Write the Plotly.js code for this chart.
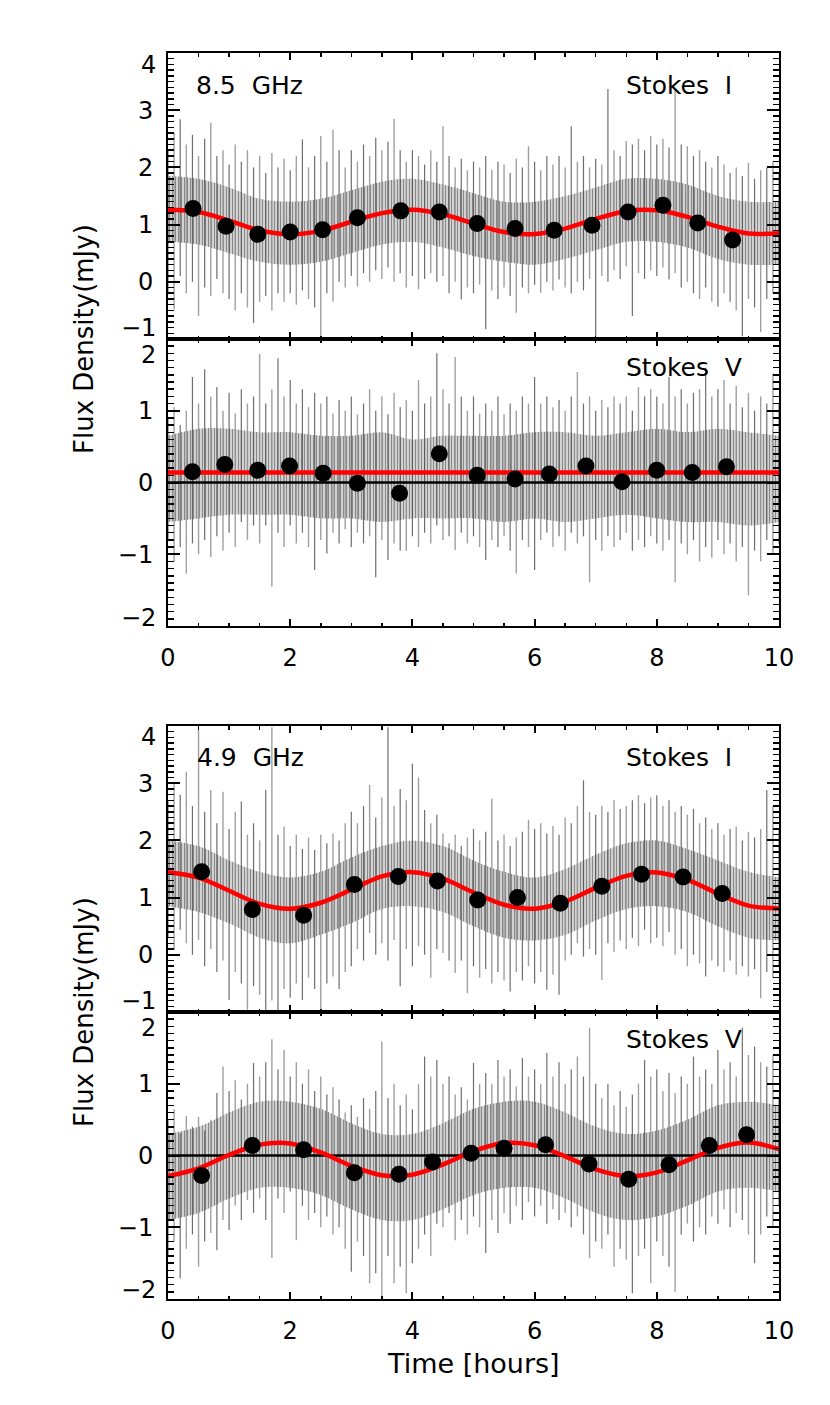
<!DOCTYPE html>
<html><head><meta charset="utf-8">
<script src="https://cdn.plot.ly/plotly-3.0.1.min.js"></script>
<style>html,body{margin:0;padding:0;background:#fff;}#chart{width:830px;height:1405px;}</style>
</head><body><div id="chart"></div>
<script>
// ---------- DATA ----------
const xTickVals = [0, 2, 4, 6, 8, 10];
const yTickValsI = [-1, 0, 1, 2, 3, 4];
const yTickValsV = [-2, -1, 0, 1, 2];
const noiseStep = 0.1;   // time spacing of the gray error bars (hours)
const curveStep = 0.5;   // time spacing of fitted curve samples (hours)

// 8.5 GHz Stokes I
const binT_85I = [0.41,0.95,1.47,2.00,2.53,3.10,3.81,4.44,5.06,5.68,6.32,6.94,7.53,8.10,8.67,9.24];
const binV_85I = [1.28,0.97,0.83,0.87,0.91,1.12,1.24,1.22,1.02,0.93,0.90,0.99,1.22,1.34,1.03,0.73];
const fit_85I = [1.26,1.22,1.07,0.90,0.83,0.89,1.05,1.20,1.26,1.18,1.02,0.87,0.835,0.93,1.10,1.235,1.25,1.135,0.965,0.845,0.85];
const noiseHi_85I = [2.3,2.6,2.84,2.4,2.57,2.2,2.5,2.78,2.2,2.3,2.05,2.4,2.1,2.3,2.0,2.2,1.9,2.25,2.0,2.15,1.95,2.2,2.49,2.0,2.2,2.55,2.1,2.66,2.3,2.0,2.3,2.1,2.4,2.2,2.52,2.3,2.45,2.85,2.3,2.1,2.3,2.2,2.05,2.3,2.1,2.72,2.2,2.0,2.15,1.95,2.1,2.0,2.2,1.96,2.1,2.05,1.9,2.15,2.0,2.37,2.1,1.95,2.2,2.05,2.2,2.0,2.72,2.1,2.2,2.0,2.15,2.05,3.37,2.3,2.2,2.46,2.4,2.5,2.3,2.55,2.4,2.5,2.35,3.36,2.4,2.37,2.2,2.3,2.1,2.0,2.2,2.05,1.9,2.0,1.85,2.08,1.8,1.95,2.0,2.1,1.9];
const noiseLo_85I = [-0.2,-0.48,0.1,-0.2,0.0,-0.6,-0.1,-0.25,0.05,-0.2,-0.3,-0.5,-0.2,-0.45,-0.72,-0.35,-0.25,-0.5,-0.2,-0.35,-0.2,-0.4,-0.15,-0.3,-0.45,-1.0,-0.2,-0.35,0.0,-0.1,0.1,-0.08,0.15,0.0,0.2,0.05,0.25,0.0,0.15,-0.1,0.1,-0.13,0.05,0.15,0.0,0.1,-0.2,0.0,-0.31,-0.1,-0.2,-0.05,-0.83,-0.15,-0.3,-0.1,-0.25,-0.54,-0.1,-0.2,-0.05,-0.19,0.0,-0.15,0.04,-0.1,-0.2,0.0,-0.15,0.05,-0.95,0.1,0.0,0.2,0.05,0.27,-0.6,0.15,0.05,0.2,0.1,0.25,0.04,0.15,-0.1,0.0,-0.2,-0.3,-0.1,-0.35,-0.43,-0.2,-0.35,-0.5,-0.95,-0.3,-0.45,-0.88,-0.3,-0.2,-0.35];
const coreHi_85I = [1.85,1.8,1.65,1.45,1.4,1.45,1.6,1.75,1.8,1.7,1.55,1.4,1.4,1.5,1.65,1.8,1.8,1.7,1.5,1.4,1.4];
const coreLo_85I = [0.7,0.65,0.5,0.35,0.3,0.35,0.5,0.65,0.7,0.6,0.45,0.35,0.3,0.4,0.55,0.7,0.7,0.6,0.4,0.3,0.3];

// 8.5 GHz Stokes V
const binT_85V = [0.40,0.93,1.47,1.99,2.54,3.10,3.79,4.44,5.06,5.68,6.24,6.84,7.43,8.00,8.58,9.14];
const binV_85V = [0.15,0.25,0.17,0.23,0.13,-0.01,-0.15,0.40,0.10,0.05,0.12,0.23,0.01,0.17,0.14,0.22];
const fitT_85V = [0, 10];
const fit_85V = [0.14, 0.14];
const noiseHi_85V = [0.9,1.05,0.8,1.0,1.47,1.1,1.58,1.2,1.33,1.0,1.25,0.96,1.3,1.1,1.2,1.79,1.1,1.3,1.73,1.2,1.43,1.1,1.3,1.05,1.25,1.1,1.2,0.96,1.15,1.0,1.2,0.95,1.1,1.3,1.0,1.2,0.95,1.25,1.05,1.15,1.0,1.43,1.1,1.2,1.8,1.3,1.1,1.75,1.2,1.0,1.2,0.96,1.1,1.0,1.2,0.95,1.1,1.0,1.2,1.1,1.47,1.1,1.2,1.05,1.15,1.0,1.2,1.54,1.1,1.2,1.0,1.15,1.05,1.2,1.1,1.2,1.0,1.33,1.2,1.3,1.2,1.1,1.47,1.2,1.3,1.1,1.25,1.3,1.6,1.2,1.3,1.43,1.1,1.35,1.05,1.25,1.0,1.2,1.1,1.52,1.1];
const noiseLo_85V = [-0.8,-1.1,-0.9,-1.27,-0.85,-1.0,-0.8,-1.04,-0.75,-0.95,-0.7,-0.9,-0.55,-0.8,-0.6,-0.85,-0.6,-1.45,-0.7,-0.9,-0.6,-0.85,-0.7,-0.9,-1.22,-0.8,-0.99,-0.7,-0.85,-0.65,-0.9,-0.7,-0.85,-0.75,-1.32,-0.8,-1.08,-0.85,-0.95,-0.95,-0.75,-0.9,-0.7,-0.85,-0.6,-0.8,-0.75,-0.94,-0.7,-0.85,-0.75,-0.9,-1.08,-0.8,-0.9,-0.75,-0.95,-1.27,-0.8,-0.9,-1.22,-0.8,-0.7,-0.9,-0.75,-0.95,-0.7,-0.85,-0.75,-1.39,-0.8,-0.95,-0.75,-0.9,-0.8,-0.7,-0.95,-0.8,-0.9,-0.75,-0.85,-0.95,-0.8,-1.39,-0.85,-1.0,-0.8,-1.1,-0.9,-1.05,-0.8,-1.0,-0.85,-1.1,-0.9,-1.57,-0.95,-1.1,-0.8,-1.0,-0.85];
const coreHi_85V = [0.65,0.75,0.75,0.7,0.7,0.65,0.65,0.7,0.6,0.65,0.65,0.65,0.7,0.7,0.65,0.7,0.75,0.7,0.75,0.7,0.65];
const coreLo_85V = [-0.55,-0.5,-0.45,-0.45,-0.45,-0.5,-0.5,-0.55,-0.5,-0.5,-0.5,-0.55,-0.5,-0.55,-0.5,-0.45,-0.5,-0.55,-0.55,-0.6,-0.55];

// 4.9 GHz Stokes I
const binT_49I = [0.55,1.38,2.22,3.05,3.77,4.41,5.07,5.72,6.42,7.10,7.75,8.43,9.07];
const binV_49I = [1.45,0.79,0.69,1.23,1.37,1.29,0.96,1.00,0.90,1.20,1.41,1.36,1.07];
const fit_49I = [1.445,1.35,1.12,0.89,0.805,0.91,1.14,1.37,1.445,1.33,1.09,0.875,0.807,0.93,1.17,1.38,1.44,1.31,1.07,0.86,0.81];
const noiseHi_49I = [2.7,3.0,2.8,3.2,2.6,3.93,2.5,2.88,2.3,2.85,2.2,2.5,2.68,2.1,2.3,2.0,2.88,3.98,2.1,2.24,1.9,2.1,1.85,2.05,1.83,2.1,1.95,2.12,2.0,2.3,2.5,2.3,2.6,2.97,2.4,2.75,3.98,2.6,2.9,2.7,3.34,3.1,2.53,2.3,2.45,2.12,1.95,2.1,1.9,2.05,2.2,2.0,2.15,2.73,2.0,2.1,1.9,2.05,2.15,2.36,2.2,2.3,2.12,2.25,2.1,2.4,2.3,2.6,3.05,2.5,2.45,2.6,2.5,2.7,2.55,2.6,2.7,2.79,2.65,2.75,2.79,2.6,2.7,2.5,2.6,2.45,2.55,2.3,2.4,2.2,2.3,2.1,2.2,2.24,2.0,2.15,2.05,2.2,2.88,2.6,2.2];
const noiseLo_49I = [0.3,0.09,0.44,0.2,0.0,0.26,-0.2,0.1,-0.3,-0.1,-0.79,-0.3,-0.5,-0.96,-0.55,-0.7,-1.1,-0.8,-1.1,-0.6,-0.75,-0.5,-0.79,-0.4,-0.6,-1.1,-0.5,-0.38,-0.6,-0.3,-0.2,0.1,-0.1,0.38,0.0,0.2,-0.1,0.26,-0.55,0.1,-0.2,0.15,0.0,-0.4,0.1,0.03,-0.1,-0.32,-0.1,-0.67,-0.2,-0.4,-0.25,-0.5,-0.3,-0.45,-0.64,-0.3,-0.45,-0.2,-0.5,-0.3,-0.61,-0.35,-0.7,-0.1,0.0,0.2,-0.03,0.1,0.0,-0.44,0.2,0.05,0.25,0.1,0.3,0.15,0.44,0.2,0.3,0.15,0.4,0.0,0.1,-0.2,0.0,-0.15,-0.38,-0.1,-0.2,-0.3,-0.1,-0.35,-0.2,-0.38,-0.25,-0.76,-0.3,-0.4,-0.2];
const coreHi_49I = [2.0,1.9,1.65,1.45,1.35,1.45,1.7,1.9,2.0,1.9,1.65,1.45,1.35,1.5,1.75,1.95,2.0,1.85,1.65,1.45,1.35];
const coreLo_49I = [0.85,0.75,0.55,0.3,0.2,0.35,0.55,0.8,0.85,0.75,0.5,0.3,0.25,0.35,0.6,0.8,0.85,0.75,0.5,0.3,0.25];

// 4.9 GHz Stokes V
const binT_49V = [0.55,1.38,2.22,3.05,3.78,4.33,4.96,5.50,6.18,6.89,7.54,8.20,8.86,9.47];
const binV_49V = [-0.28,0.14,0.08,-0.24,-0.26,-0.09,0.03,0.10,0.15,-0.12,-0.33,-0.13,0.14,0.29];
const fit_49V = [-0.285,-0.178,0.007,0.152,0.168,0.043,-0.144,-0.274,-0.267,-0.126,0.06,0.173,0.143,-0.012,-0.194,-0.288,-0.236,-0.069,0.106,0.18,0.09];
const noiseHi_49V = [0.5,0.64,0.31,0.55,0.4,0.54,0.35,0.5,0.87,1.24,0.9,1.05,0.78,1.0,1.29,1.1,1.3,1.62,1.2,1.47,1.1,1.3,1.0,1.2,0.9,1.1,0.85,0.95,0.78,0.6,0.7,0.54,0.8,0.65,0.9,1.59,0.8,1.0,0.7,0.85,0.64,1.0,1.38,1.1,1.33,1.0,1.1,0.85,0.95,0.78,1.29,1.0,1.15,1.0,1.33,1.1,1.2,0.96,1.36,1.1,1.2,1.0,1.43,1.1,1.3,1.0,1.2,1.38,1.1,1.78,1.0,0.8,1.0,0.7,0.9,0.68,0.85,1.0,1.33,1.1,1.2,0.9,1.15,0.87,1.1,1.0,1.38,1.1,1.2,1.0,1.47,1.2,1.3,1.1,1.78,1.4,1.52,1.3,1.24,1.4,0.8];
const noiseLo_49V = [-1.4,-1.2,-1.71,-1.3,-1.1,-1.55,-1.2,-1.08,-1.32,-0.9,-1.04,-0.7,-0.9,-0.62,-0.8,-0.6,-0.9,-1.43,-0.6,-0.8,-0.5,-1.18,-0.7,-0.9,-0.8,-1.0,-0.85,-1.1,-1.0,-1.3,-1.62,-1.2,-1.4,-1.78,-1.64,-2.0,-1.4,-1.78,-1.55,-1.92,-1.5,-1.3,-1.1,-1.4,-0.95,-1.0,-0.8,-1.18,-0.9,-1.1,-0.85,-1.0,-1.36,-0.9,-1.08,-0.8,-0.95,-0.7,-0.9,-0.65,-0.85,-0.7,-0.95,-0.75,-0.9,-0.8,-1.0,-0.85,-1.1,-1.43,-1.2,-1.3,-1.1,-1.55,-1.3,-1.45,-1.92,-1.4,-1.3,-1.78,-1.2,-1.4,-1.55,-1.9,-1.1,-0.95,-1.2,-1.0,-1.1,-0.85,-0.95,-0.75,-1.0,-0.8,-0.9,-1.1,-1.5,-1.1,-0.85,-1.0,-0.7];
const coreHi_49V = [0.3,0.4,0.6,0.75,0.75,0.65,0.45,0.3,0.3,0.45,0.65,0.75,0.75,0.6,0.4,0.3,0.35,0.5,0.7,0.75,0.7];
const coreLo_49V = [-0.9,-0.8,-0.6,-0.45,-0.45,-0.55,-0.75,-0.9,-0.9,-0.75,-0.55,-0.45,-0.45,-0.6,-0.8,-0.9,-0.85,-0.7,-0.5,-0.45,-0.5];

const zeroT = [0, 10];
const zeroV = [0, 0];

// ---------- BUILD ----------
const W = 830, H = 1405;
const px = v => v / W, py = v => 1 - v / H;
const FONT = 'DejaVu Sans, sans-serif';
const traces = [];

function grid(step, n) { const a = []; for (let i = 0; i < n; i++) a.push(+(i * step).toFixed(3)); return a; }

function addPanel(k, hi, lo, cHi, cLo, fitT, fit, bT, bV, withZero) {
  const xa = 'x' + (k === 1 ? '' : k), ya = 'y' + (k === 1 ? '' : k);
  const tc = grid(curveStep, cHi.length);
  traces.push({x: tc, y: cLo, xaxis: xa, yaxis: ya, mode: 'lines', line: {width: 0, shape: 'spline'}, hoverinfo: 'skip', showlegend: false});
  traces.push({x: tc, y: cHi, xaxis: xa, yaxis: ya, mode: 'lines', line: {width: 0, shape: 'spline'}, fill: 'tonexty',
    fillcolor: '#c8c8c8',
    fillpattern: {shape: '|', size: 3, solidity: 0.3, fgcolor: '#808080', bgcolor: '#d2d2d2'},
    hoverinfo: 'skip', showlegend: false});
  const tn = grid(noiseStep, hi.length);
  const sx = [[], []], sy = [[], []];
  tn.forEach((t, i) => { const s = i % 2; sx[s].push(t, t, null); sy[s].push(lo[i], hi[i], null); });
  traces.push({x: sx[0], y: sy[0], xaxis: xa, yaxis: ya, mode: 'lines', line: {width: 1.2, color: 'rgba(85,85,85,0.85)'}, connectgaps: false, hoverinfo: 'skip', showlegend: false});
  traces.push({x: sx[1], y: sy[1], xaxis: xa, yaxis: ya, mode: 'lines', line: {width: 1.4, color: 'rgba(150,150,150,0.9)'}, connectgaps: false, hoverinfo: 'skip', showlegend: false});
  if (withZero) traces.push({x: zeroT, y: zeroV, xaxis: xa, yaxis: ya, mode: 'lines', line: {width: 2.5, color: '#000'}, hoverinfo: 'skip', showlegend: false});
  traces.push({x: fitT || grid(curveStep, fit.length), y: fit, xaxis: xa, yaxis: ya, mode: 'lines', line: {width: 4.5, color: '#ff0000', shape: 'spline'}, hoverinfo: 'skip', showlegend: false});
  traces.push({x: bT, y: bV, xaxis: xa, yaxis: ya, mode: 'markers', marker: {size: 17, color: '#000'}, hoverinfo: 'skip', showlegend: false});
}

addPanel(1, noiseHi_85I, noiseLo_85I, coreHi_85I, coreLo_85I, null, fit_85I, binT_85I, binV_85I, false);
addPanel(2, noiseHi_85V, noiseLo_85V, coreHi_85V, coreLo_85V, fitT_85V, fit_85V, binT_85V, binV_85V, true);
addPanel(3, noiseHi_49I, noiseLo_49I, coreHi_49I, coreLo_49I, null, fit_49I, binT_49I, binV_49I, false);
addPanel(4, noiseHi_49V, noiseLo_49V, coreHi_49V, coreLo_49V, null, fit_49V, binT_49V, binV_49V, true);

const xDom = [px(168), px(779)];
const panels = [[53, 339], [339, 626], [726, 1012], [1012, 1299]];
const tickFont = {family: FONT, size: 24, color: '#000'};

function xAxis(k, labels) {
  return {domain: xDom, anchor: 'y' + (k === 1 ? '' : k), range: [0, 10], tickvals: xTickVals, showticklabels: labels,
    ticks: 'inside', ticklen: 7, tickwidth: 2, tickcolor: '#000',
    minor: {tickmode: 'linear', tick0: 0, dtick: 0.5, ticks: 'inside', ticklen: 3.5, tickwidth: 1.5, tickcolor: '#000'},
    showline: true, linewidth: 2, linecolor: '#000', mirror: 'allticks', showgrid: false, zeroline: false,
    tickfont: tickFont, ticklabelstandoff: 9};
}
function yAxis(k, vals) {
  const [top, bot] = panels[k - 1];
  const txt = vals.map((v, i) => (i === 0 || i === vals.length - 1) ? '' : (v < 0 ? '\u2212' + Math.abs(v) : String(v)));
  return {domain: [py(bot), py(top)], anchor: 'x' + (k === 1 ? '' : k), range: [vals[0], vals[vals.length - 1]],
    tickmode: 'array', tickvals: vals, ticktext: txt,
    ticks: 'inside', ticklen: 12, tickwidth: 2, tickcolor: '#000',
    minor: {tickmode: 'linear', tick0: 0, dtick: 0.1, ticks: 'inside', ticklen: 6, tickwidth: 1.5, tickcolor: '#000'},
    showline: true, linewidth: 2, linecolor: '#000', mirror: 'allticks', showgrid: false, zeroline: false,
    tickfont: tickFont, ticklabelstandoff: 8};
}

const ann = [];
function edgeLabel(k, v, shift) {
  ann.push({xref: 'paper', x: px(157), xanchor: 'right', yref: 'y' + (k === 1 ? '' : k), y: v, yanchor: 'middle', yshift: shift,
    text: v < 0 ? '\u2212' + Math.abs(v) : String(v), showarrow: false, font: tickFont, borderpad: 0});
}
edgeLabel(1, 4, -12); edgeLabel(1, -1, 11); edgeLabel(2, 2, -16); edgeLabel(2, -2, 8);
edgeLabel(3, 4, -11); edgeLabel(3, -1, 11); edgeLabel(4, 2, -16); edgeLabel(4, -2, 9);

const txtFont = {family: FONT, size: 25, color: '#000'};
function label(text, xPix, yPix, anchor) {
  ann.push({xref: 'paper', yref: 'paper', x: px(xPix), y: py(yPix), xanchor: anchor, yanchor: 'middle', text: text, showarrow: false, font: txtFont});
}
label('8.5\u00a0 GHz', 194, 86, 'left');
label('Stokes\u00a0 I', 624, 86, 'left');
label('Stokes\u00a0 V', 624, 367, 'left');
label('4.9\u00a0 GHz', 195, 758, 'left');
label('Stokes\u00a0 I', 624, 757, 'left');
label('Stokes\u00a0 V', 624, 1039, 'left');

const titleFont = {family: FONT, size: 26, color: '#000'};
ann.push({xref: 'paper', yref: 'paper', x: px(84), y: py(339), text: 'Flux Density(mJy)', textangle: -90, showarrow: false, font: titleFont, xanchor: 'center', yanchor: 'middle'});
ann.push({xref: 'paper', yref: 'paper', x: px(84), y: py(1012), text: 'Flux Density(mJy)', textangle: -90, showarrow: false, font: titleFont, xanchor: 'center', yanchor: 'middle'});
ann.push({xref: 'paper', yref: 'paper', x: px(473), y: py(1363), text: 'Time [hours]', showarrow: false, font: {family: FONT, size: 27, color: '#000'}, xanchor: 'center', yanchor: 'middle'});

const layout = {
  width: W, height: H, margin: {l: 0, r: 0, t: 0, b: 0}, paper_bgcolor: '#fff', plot_bgcolor: '#fff', showlegend: false,
  font: {family: FONT, color: '#000'},
  xaxis: xAxis(1, false), xaxis2: xAxis(2, true), xaxis3: xAxis(3, false), xaxis4: xAxis(4, true),
  yaxis: yAxis(1, yTickValsI), yaxis2: yAxis(2, yTickValsV), yaxis3: yAxis(3, yTickValsI), yaxis4: yAxis(4, yTickValsV),
  annotations: ann
};
Plotly.newPlot('chart', traces, layout, {staticPlot: true, displayModeBar: false});
</script></body></html>
